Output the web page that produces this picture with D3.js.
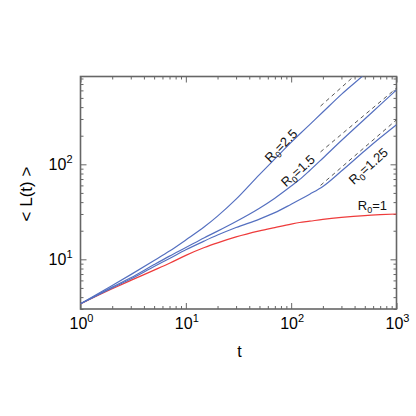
<!DOCTYPE html>
<html>
<head>
<meta charset="utf-8">
<script src="https://cdn.jsdelivr.net/npm/d3@7"></script>
<style>
  body { margin: 0; background: #fff; }
  text { font-family: "Liberation Sans", Arial, sans-serif; }
</style>
</head>
<body>
<div id="chart"></div>
<script>
// time points shared by all curves
const tValues = [1, 2, 3, 5, 7, 10, 15, 20, 30, 50, 70, 100, 120, 150, 200, 300, 500, 700, 1000];

// <L(t)> for each R0
const L_R1    = [3.4, 4.9, 6.0, 7.7, 9.1, 11.0, 13.3, 14.9, 17.2, 19.9, 21.6, 23.5, 24.4, 25.2, 26.3, 27.6, 28.9, 29.5, 30.0];
const L_R125  = [3.4, 5.0, 6.2, 8.4, 10.2, 12.6, 15.6, 18.0, 21.6, 26.5, 31, 38, 42.3, 48.5, 58.5, 85, 139, 190, 261];
const L_R15   = [3.4, 5.1, 6.4, 8.8, 10.8, 13.3, 16.9, 19.8, 25, 34.5, 44, 59, 69, 86, 116, 178, 300, 422, 608];
const L_R25   = [3.4, 5.3, 6.9, 9.7, 12.2, 16, 22, 28.5, 43, 78, 114, 170, 207, 262, 355, 545, 890, 1250, 1800];

const curveNames = ["R1", "R125", "R15", "R25"];

// dashed asymptotes: [t start, t end], [L start, L end]
const dashT = [[190, 420], [190, 1000], [190, 1000]];
const dashL = [[410, 900], [135, 634], [60, 294]];

// label text, anchor (t, L) and rotation
const labelText  = ["1", "1.25", "1.5", "2.5"];
const labelT     = [590, 540, 116, 80];
const labelL     = [36.5, 96, 85.5, 157];
const labelAngle = [0, -42, -42, -46];

const xTicks = [1, 10, 100, 1000];
const xTickExp = ["0", "1", "2", "3"];
const yTicks = [10, 100];
const yTickExp = ["1", "2"];

const W = 416, H = 416;
const mLeft = 80.5, mRight = 396.5, mTop = 76.5, mBottom = 309;

const x = d3.scaleLog().domain([1, 1000]).range([mLeft, mRight]);
const y = d3.scaleLog().domain([3, 840]).range([mBottom, mTop]);

const svg = d3.select("#chart").append("svg")
    .attr("width", W)
    .attr("height", H);

svg.append("defs").append("clipPath").attr("id", "clip")
    .append("rect")
    .attr("x", mLeft).attr("y", mTop)
    .attr("width", mRight - mLeft).attr("height", mBottom - mTop);

// minor tick values
const xMinor = [];
for (let d = 1; d < 1000; d *= 10) for (let k = 2; k <= 9; k++) xMinor.push(d * k);
const yMinor = [];
for (let d = 1; d < 1000; d *= 10) for (let k = 2; k <= 9; k++) { const v = d * k; if (v >= 3 && v <= 840) yMinor.push(v); }

const axisColor = "#666";

function drawAxis(axis, tx, ty) {
    const g = svg.append("g").attr("transform", "translate(" + tx + "," + ty + ")").call(axis);
    g.select(".domain").remove();
    g.selectAll("line").attr("stroke", axisColor).attr("stroke-width", 1);
    g.selectAll("text").remove();
}

// ticks point inward on all four sides
drawAxis(d3.axisBottom(x).tickValues(xTicks).tickSize(-6), 0, mBottom);
drawAxis(d3.axisBottom(x).tickValues(xMinor).tickSize(-3), 0, mBottom);
drawAxis(d3.axisTop(x).tickValues(xTicks).tickSize(-6), 0, mTop);
drawAxis(d3.axisTop(x).tickValues(xMinor).tickSize(-3), 0, mTop);
drawAxis(d3.axisLeft(y).tickValues(yTicks).tickSize(-6), mLeft, 0);
drawAxis(d3.axisLeft(y).tickValues(yMinor).tickSize(-3), mLeft, 0);
drawAxis(d3.axisRight(y).tickValues(yTicks).tickSize(-6), mRight, 0);
drawAxis(d3.axisRight(y).tickValues(yMinor).tickSize(-3), mRight, 0);

// frame
svg.append("rect")
    .attr("x", mLeft).attr("y", mTop)
    .attr("width", mRight - mLeft).attr("height", mBottom - mTop)
    .attr("fill", "none")
    .attr("stroke", axisColor)
    .attr("stroke-width", 1.6);

// tick labels with superscript exponent
xTicks.forEach(function (v, i) {
    const t = svg.append("text")
        .attr("x", x(v) + 1)
        .attr("y", mBottom + 20)
        .attr("text-anchor", "middle")
        .style("font-size", "16px");
    t.append("tspan").text("10");
    t.append("tspan").attr("dy", -7).style("font-size", "11px").text(xTickExp[i]);
});
yTicks.forEach(function (v, i) {
    const t = svg.append("text")
        .attr("x", mLeft - 8)
        .attr("y", y(v) + 6)
        .attr("text-anchor", "end")
        .style("font-size", "16px");
    t.append("tspan").text("10");
    t.append("tspan").attr("dy", -7).style("font-size", "11px").text(yTickExp[i]);
});

// axis titles
svg.append("text")
    .attr("x", (mLeft + mRight) / 2 + 1)
    .attr("y", 357)
    .attr("text-anchor", "middle")
    .style("font-size", "16px")
    .text("t");
svg.append("text")
    .attr("transform", "translate(32," + 194 + ") rotate(-90)")
    .attr("text-anchor", "middle")
    .style("font-size", "17px")
    .text("< L(t) >");

const plot = svg.append("g").attr("clip-path", "url(#clip)");

const line = d3.line()
    .x(d => x(d[0]))
    .y(d => y(d[1]))
    .curve(d3.curveMonotoneX);

// dashed asymptotes
dashT.forEach(function (ts, i) {
    plot.append("path")
        .datum([[ts[0], dashL[i][0]], [ts[1], dashL[i][1]]])
        .attr("d", d3.line().x(d => x(d[0])).y(d => y(d[1])))
        .attr("fill", "none")
        .attr("stroke", "#444")
        .attr("stroke-width", 0.9)
        .attr("stroke-dasharray", "4,3.5");
});

// curves
const series = [L_R1, L_R125, L_R15, L_R25];
const colors = ["#ee3b3b", "#5570c0", "#5570c0", "#5570c0"];
series.forEach(function (vals, i) {
    plot.append("path")
        .datum(tValues.map((t, j) => [t, vals[j]]))
        .attr("class", "curve-" + curveNames[i])
        .attr("d", line)
        .attr("fill", "none")
        .attr("stroke", colors[i])
        .attr("stroke-width", 1.2);
});

// curve labels R0=...
labelText.forEach(function (s, i) {
    const t = svg.append("text")
        .attr("transform", "translate(" + x(labelT[i]) + "," + y(labelL[i]) + ") rotate(" + labelAngle[i] + ")")
        .attr("text-anchor", "middle")
        .attr("dy", "0.35em")
        .style("font-size", "13px")
        .attr("fill", "#111");
    t.append("tspan").text("R");
    t.append("tspan").attr("dy", 3).style("font-size", "9px").text("0");
    t.append("tspan").attr("dy", -3).text("=" + s);
});
</script>
</body>
</html>
